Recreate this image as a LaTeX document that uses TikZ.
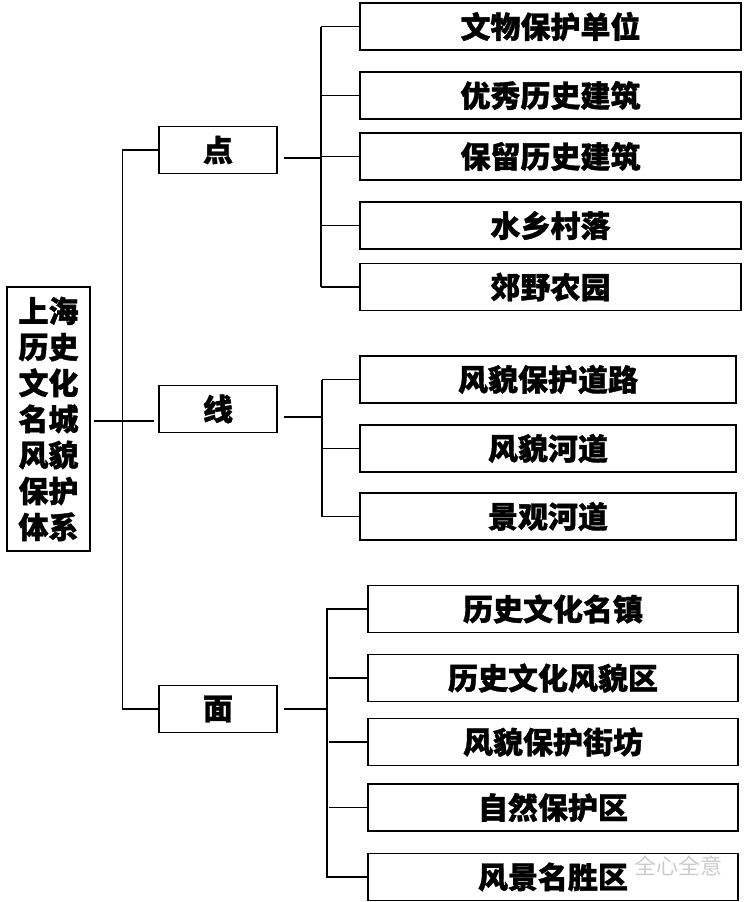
\documentclass[tikz,border=0pt]{standalone}
\usepackage{fontspec}
\newfontfamily\cjk{Noto Sans CJK SC}[BoldFeatures={FakeBold=1.2}]
\usetikzlibrary{positioning}

\tikzset{
    box/.style={draw, line width=1.2pt, inner sep=0pt, minimum height=47pt, font=\cjk\bfseries\fontsize{30}{36}\selectfont},
    midbox/.style={box, minimum width=118pt},
    dianbox/.style={box, minimum width=381pt},
    xianbox/.style={box, minimum width=376pt},
    mianbox/.style={box, minimum width=370pt},
    link/.style={line width=1.2pt}
}

\begin{document}
\begin{tikzpicture}[x=1pt, y=-1pt]
        \useasboundingbox (0,0) rectangle (745,902);

        \node[box, minimum width=83pt, minimum height=264pt, align=center] (main) at (48.5, 419) {上海\\历史\\文化\\名城\\风貌\\保护\\体系};

        \node[midbox] (dian) at (218, 150) {点};
        \node[midbox] (xian) at (218, 409) {线};
        \node[midbox] (mian) at (218, 709) {面};

        \node[dianbox] (d1) at (550.5, 26.5) {文物保护单位};
        \node[dianbox] (d2) at (550.5, 95.5) {优秀历史建筑};
        \node[dianbox] (d3) at (550.5, 156.5) {保留历史建筑};
        \node[dianbox] (d4) at (550.5, 225.5) {水乡村落};
        \node[dianbox] (d5) at (550.5, 287) {郊野农园};

        \node[xianbox] (x1) at (548, 379.5) {风貌保护道路};
        \node[xianbox] (x2) at (548, 448.5) {风貌河道};
        \node[xianbox] (x3) at (548, 516.5) {景观河道};

        \node[mianbox] (m1) at (553, 609) {历史文化名镇};
        \node[mianbox] (m2) at (553, 678) {历史文化风貌区};
        \node[mianbox] (m3) at (553, 742) {风貌保护街坊};
        \node[mianbox] (m4) at (553, 807.5) {自然保护区};
        \node[mianbox] (m5) at (553, 877) {风景名胜区};

        \node[font=\cjk\fontsize{22}{22}\selectfont, text=black!20] (mark) at (678, 866) {全心全意};

        \coordinate (dbus) at (321, 0);
        \coordinate (xbus) at (322, 0);
        \coordinate (mbus) at (327, 0);

        % main to dian / xian / mian
        \draw[link] ([xshift=3pt, yshift=-2pt]main.east) -- ([xshift=-4pt, yshift=-2pt]main.east -| xian.west);
        \draw[link] (dian.west) -- ++(-36, 0) |- (mian.west);

        % dian
        \draw[link] ([xshift=6pt, yshift=-8pt]dian.east) -- ([yshift=-8pt]dian.east -| dbus);
        \draw[link] (d1.west -| dbus) -- (d5.west -| dbus);
        \foreach \n in {d1, d2, d3, d4, d5}
            \draw[link] (\n.west) -- (\n.west -| dbus);

        % xian
        \draw[link] ([xshift=6pt, yshift=-8pt]xian.east) -- ([yshift=-8pt]xian.east -| xbus);
        \draw[link] (x1.west -| xbus) -- (x3.west -| xbus);
        \foreach \n in {x1, x2, x3}
            \draw[link] (\n.west) -- (\n.west -| xbus);

        % mian
        \draw[link] ([xshift=6pt]mian.east) -- (mian.east -| mbus);
        \draw[link] (m1.west) -| (m5.west -| mbus) -- (m5.west);
        \foreach \n in {m2, m3, m4}
            \draw[link] (\n.west) -- ++(-38, 0);
\end{tikzpicture}
\end{document}
